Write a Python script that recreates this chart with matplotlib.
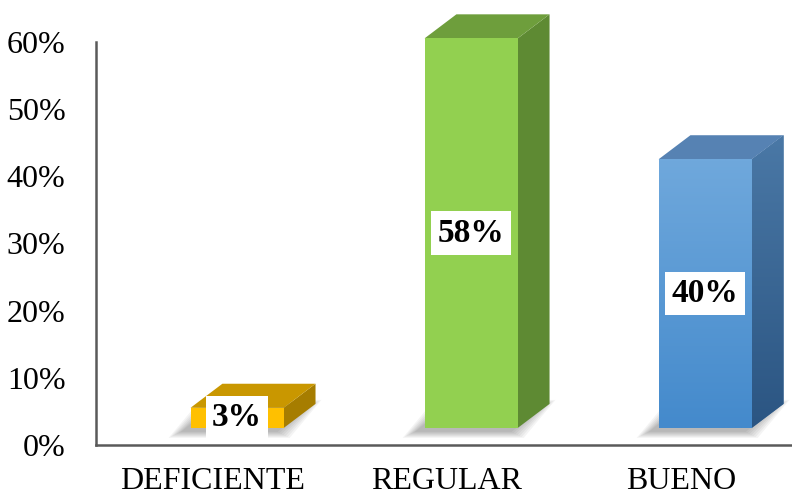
import numpy as np
import matplotlib
matplotlib.use('Agg')
import matplotlib.pyplot as plt
from matplotlib.patches import Polygon

# %% data
categories = ['DEFICIENTE', 'REGULAR', 'BUENO']
values = [3, 58, 40]
yticks = [0, 10, 20, 30, 40, 50, 60]

# face colours: front, top, side (front/side of the blue bar are gradients)
front_cols = [('#FFC000', '#FFC000'), ('#92D050', '#92D050'), ('#6FA8DC', '#448ACC')]
top_cols = ['#C99700', '#6E9E3C', '#5682B3']
side_cols = [('#A67D00', '#A67D00'), ('#5E8A33', '#5E8A33'), ('#4A78A6', '#2B5582')]

plt.rcParams['font.family'] = ['Liberation Serif', 'DejaVu Serif']

# depth projection (in data units) for front and back planes of the bars
W = 0.199
DXF, DYF = 0.103, 2.54
DXB, DYB = 0.239, 6.12
PX_X, PX_Y = 1 / 234, 1 / 6.717   # one pixel in data units


def grad_poly(ax, pts, c_top, c_bot, zorder):
    poly = Polygon(pts, closed=True, facecolor=c_top, edgecolor='none',
                   zorder=zorder, clip_on=False)
    ax.add_patch(poly)
    if c_top == c_bot:
        return
    pts = np.array(pts)
    x0, x1 = pts[:, 0].min(), pts[:, 0].max()
    y0, y1 = pts[:, 1].min(), pts[:, 1].max()
    a = np.array(matplotlib.colors.to_rgb(c_top))
    b = np.array(matplotlib.colors.to_rgb(c_bot))
    t = np.linspace(0, 1, 64)[:, None]
    img = (a * (1 - t) + b * t)[:, None, :]
    im = ax.imshow(img, extent=(x0, x1, y0, y1), origin='upper',
                   aspect='auto', zorder=zorder + 0.1, interpolation='bilinear')
    im.set_clip_path(poly)


fig = plt.figure(figsize=(7.92, 4.96), dpi=100)
ax = fig.add_axes([96 / 792, 51 / 496, 696 / 792, 403 / 496])
ax.set_xlim(-0.5, 2.474)
ax.set_ylim(0, 60)

for i, v in enumerate(values):
    xl, xr = i - W, i + W
    # soft floor shadow: blurred footprint, nudged left/down
    ox, oy = -8 * PX_X, -3 * PX_Y
    for d in range(2, 16, 2):
        ex, ey = d * PX_X, d * 0.5 * PX_Y
        shadow = [(xl + DXF + ox - ex, DYF + oy - ey), (xr + DXF + ox + ex, DYF + oy - ey),
                  (xr + DXB + ox + ex, DYB + oy + ey), (xl + DXB + ox - ex, DYB + oy + ey)]
        ax.add_patch(Polygon(shadow, closed=True, facecolor='#000000', alpha=0.045,
                             edgecolor='none', zorder=1, clip_on=False))
    front = [(xl + DXF, DYF), (xr + DXF, DYF), (xr + DXF, v + DYF), (xl + DXF, v + DYF)]
    top = [(xl + DXF, v + DYF), (xr + DXF, v + DYF), (xr + DXB, v + DYB), (xl + DXB, v + DYB)]
    side = [(xr + DXF, DYF), (xr + DXB, DYB), (xr + DXB, v + DYB), (xr + DXF, v + DYF)]
    grad_poly(ax, [side[3], side[2], side[1], side[0]], side_cols[i][0], side_cols[i][1], 2)
    ax.add_patch(Polygon(top, closed=True, facecolor=top_cols[i], edgecolor='none',
                         zorder=3, clip_on=False))
    grad_poly(ax, [front[3], front[2], front[1], front[0]], front_cols[i][0], front_cols[i][1], 4)
    ax.text(i + DXF, v / 2 + DYF, f'{v}%', ha='center', va='center', fontsize=24,
            fontweight='bold', zorder=6,
            bbox=dict(facecolor='white', edgecolor='none', pad=4.5))

ax.set_xlim(-0.5, 2.474)
ax.set_ylim(0, 60)

for s in ['top', 'right']:
    ax.spines[s].set_visible(False)
for s in ['left', 'bottom']:
    ax.spines[s].set_color('#5A5A5A')
    ax.spines[s].set_linewidth(1.8)

ax.set_yticks(yticks)
ax.set_yticklabels([f'{t}%' for t in yticks], fontsize=23)
ax.set_xticks(range(len(categories)))
ax.set_xticklabels(categories, fontsize=23)
ax.tick_params(axis='y', length=0, pad=22)
ax.tick_params(axis='x', length=0, pad=16)
ax.set_facecolor('none')

fig.savefig('out.png', dpi=100)
